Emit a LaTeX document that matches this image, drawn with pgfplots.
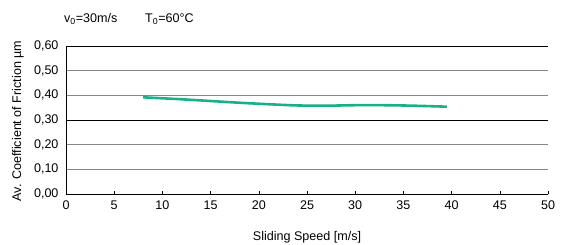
\documentclass[border=0pt]{standalone}
\usepackage{fontspec}
\setmainfont{Liberation Sans}
\usepackage{pgfplots}
\pgfplotsset{compat=1.18}
\definecolor{teal1}{RGB}{24,176,134}
\definecolor{gridgray}{RGB}{135,135,135}
\newcommand{\fs}{\fontsize{12.6}{14}\selectfont}
\begin{document}
\begin{tikzpicture}[x=1bp,y=1bp]
\useasboundingbox (0,0) rectangle (564,244);
\node[anchor=base west,font=\fs,inner sep=0] at (145,222) {T\textsubscript{0}=60°C};
\node[anchor=base west,font=\fs,inner sep=0] at (64,222) {v\textsubscript{0}=30m/s};
\node[rotate=90,anchor=center,font=\fs,inner sep=0] at (18,123) {Av. Coefficient of Friction µm};
\begin{axis}[
  at={(66bp,50bp)}, anchor=south west,
  scale only axis, width=482bp, height=148bp,
  xmin=0, xmax=50, ymin=0, ymax=0.6,
  axis x line=bottom, axis y line=left,
  axis line style={black, line width=0.8pt, -},
  xtick={0,5,...,50},
  ytick={0,0.1,0.2,0.4,0.5},
  extra y ticks={0.3,0.6},
  extra y tick style={grid style={black, line width=0.8pt}},
  ymajorgrids,
  grid style={gridgray, line width=0.9pt},
  major tick length=3bp,
  xtick style={black, line width=0.6pt},
  ytick style={draw=none},
  tick align=inside,
  tick label style={font=\fs},
  /pgf/number format/assume math mode=true,
  yticklabel style={/pgf/number format/fixed, /pgf/number format/fixed zerofill, /pgf/number format/precision=2, /pgf/number format/use comma, xshift=-4bp},
  xticklabel style={yshift=-3bp},
  xlabel={Sliding Speed [m/s]},
  label style={font=\fs},
  xlabel style={at={(axis description cs:0.5,0)}, anchor=base, yshift=-46bp},
  clip=false,
]
\addplot[teal1, line width=2.6pt, smooth, tension=0.5] coordinates {
 (8,0.392) (10,0.388) (12,0.384) (15,0.377) (18,0.370) (21,0.364) (24,0.359) (27,0.358) (30,0.360) (33,0.360) (36,0.358) (39.5,0.354)
};
\end{axis}
\end{tikzpicture}
\end{document}
